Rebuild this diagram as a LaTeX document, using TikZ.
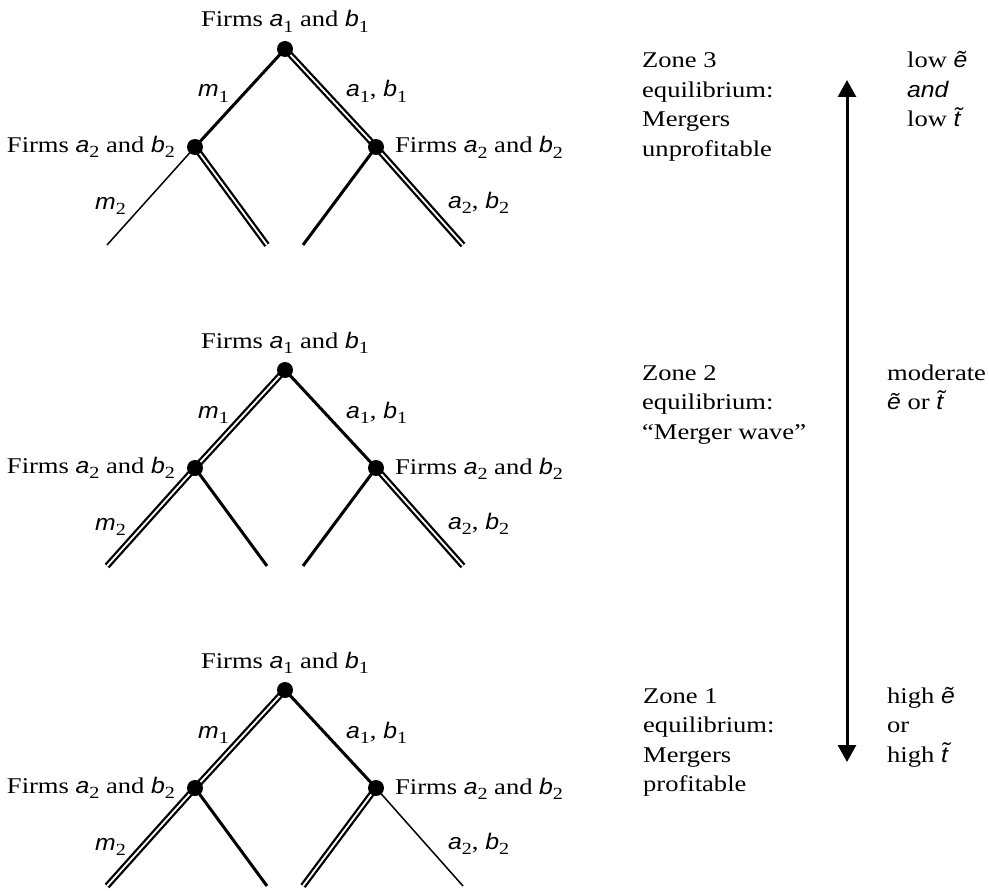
\documentclass[tikz,border=0pt]{standalone}
\usepackage{fontspec}
\setmainfont{Liberation Serif}[FakeStretch=1.18]
\newfontfamily\msf{Liberation Sans}[FakeStretch=1.1]
\usetikzlibrary{arrows.meta}
\pgfdeclarelayer{bg}
\pgfsetlayers{bg,main}
\newcommand\vv[2]{{\msf\itshape #1}\raisebox{-5.5pt}{\fontsize{17}{17}\selectfont #2}}
\newcommand\etil{{\msf\itshape ẽ}}
\newcommand\ttil{{\msf\itshape t̃}}
\newcommand\firmtree[8]{%
\begin{scope}[shift={(0,#2)}]
 \node[dot] (#1r) at (285,0) {};
 \node[dot] (#1a) at (195,98) {};
 \node[dot] (#1b) at (376,98) {};
 \coordinate (#1aa) at (107,196);
 \coordinate (#1ab) at (267,196);
 \coordinate (#1ba) at (303,196);
 \coordinate (#1bb) at (463,196);
 \begin{pgfonlayer}{bg}
  \draw[#3] (#1r.center) -- (#1a.center);
  \draw[#4] (#1r.center) -- (#1b.center);
  \draw[#5] (#1a.center) -- (#1aa);
  \draw[#6] (#1a.center) -- (#1ab);
  \draw[#7] (#1b.center) -- (#1ba);
  \draw[#8] (#1b.center) -- (#1bb);
 \end{pgfonlayer}
 \node[lbl, anchor=base] (#1rt) at ([yshift=22pt]#1r.center) {Firms \vv a1 and \vv b1};
 \node[lbl, anchor=base east] (#1at) at ([xshift=-20pt,yshift=-5pt]#1a.center) {Firms \vv a2 and \vv b2};
 \node[lbl, anchor=base west] (#1bt) at ([xshift=19pt,yshift=-6pt]#1b.center) {Firms \vv a2 and \vv b2};
 \node[lbl, anchor=base west] (#1m1) at ([xshift=-87pt,yshift=-48pt]#1r.center) {\vv m1};
 \node[lbl, anchor=base west] (#1ab1) at ([xshift=61pt,yshift=-48pt]#1r.center) {\vv a1, \vv b1};
 \node[lbl, anchor=base west] (#1m2) at ([xshift=-100pt,yshift=-62pt]#1a.center) {\vv m2};
 \node[lbl, anchor=base west] (#1ab2) at ([xshift=72pt,yshift=-61pt]#1b.center) {\vv a2, \vv b2};
\end{scope}}
\begin{document}
\begin{tikzpicture}[x=1pt,y=-1pt,
  dot/.style={circle, fill=black, inner sep=0pt, minimum size=16pt},
  lbl/.style={inner sep=0pt, font=\fontsize{22.5}{29.5}\selectfont},
  col/.style={lbl, anchor=base west},
  thk/.style={line width=3pt},
  thn/.style={line width=1.5pt},
  dbl/.style={line width=2.3pt, double=white, double distance=1.8pt},
  arr/.style={line width=3pt, {Triangle[length=17pt,width=18pt]}-{Triangle[length=17pt,width=18pt]}}]
\useasboundingbox (0,0) rectangle (989,891);
\firmtree{t}{49}{thk}{dbl}{thn}{dbl}{thk}{dbl}
\firmtree{m}{370}{dbl}{thk}{dbl}{thk}{thk}{dbl}
\firmtree{u}{690}{dbl}{thk}{dbl}{thk}{dbl}{thn}
\coordinate (atop) at (847,80);
\coordinate (abot) at (847,762);
\draw[arr] (atop) -- (abot);
\node[col] (z3) at (642,68) {\begin{tabular}[t]{@{}l@{}}Zone 3\\equilibrium:\\Mergers\\unprofitable\end{tabular}};
\node[col] (c3) at (907,68) {\begin{tabular}[t]{@{}l@{}}low \etil\\{\msf\itshape and}\\low \ttil\end{tabular}};
\node[col] (z2) at (642,380) {\begin{tabular}[t]{@{}l@{}}Zone 2\\equilibrium:\\“Merger wave”\end{tabular}};
\node[col] (c2) at (887,380) {\begin{tabular}[t]{@{}l@{}}moderate\\\etil{} or \ttil\end{tabular}};
\node[col] (z1) at (643,703) {\begin{tabular}[t]{@{}l@{}}Zone 1\\equilibrium:\\Mergers\\profitable\end{tabular}};
\node[col] (c1) at (887,703) {\begin{tabular}[t]{@{}l@{}}high \etil\\or\\high \ttil\end{tabular}};
\end{tikzpicture}
\end{document}
